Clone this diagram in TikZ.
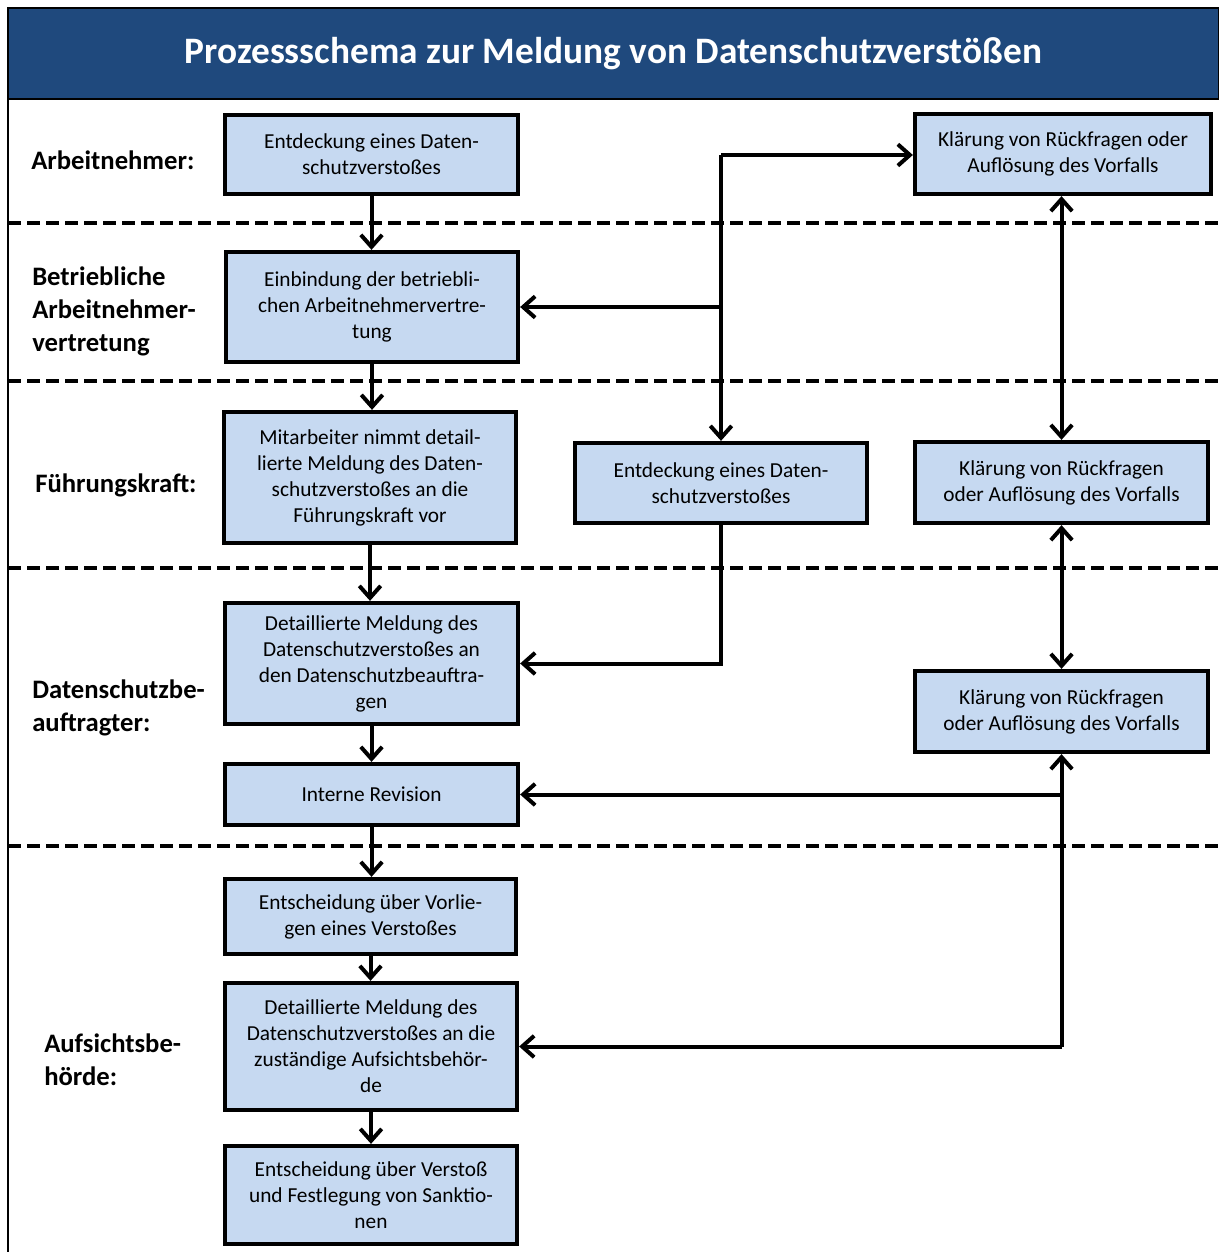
\documentclass[tikz,border=0pt]{standalone}
\usepackage{fontspec}
\setmainfont{Carlito}
\usetikzlibrary{arrows.meta}
\definecolor{titleblue}{HTML}{1F497D}
\definecolor{boxblue}{HTML}{C6D9F1}
\tikzset{
  box/.style={draw=black, line width=3.2pt, fill=boxblue, inner sep=0pt, align=center,
    font=\fontsize{16}{19.5}\selectfont},
  lane/.style={font=\bfseries\fontsize{20}{24.75}\selectfont, align=left, anchor=west, inner sep=0pt},
  conn/.style={line width=3pt, -{Straight Barb[length=9pt,width=16pt]}},
  biconn/.style={line width=3pt, {Straight Barb[length=9pt,width=16pt]}-{Straight Barb[length=9pt,width=16pt]}},
  sepline/.style={line width=3pt, dash pattern=on 9.75pt off 4.5pt},
  % size helper: width and height given in px (0.75pt each)
  sz/.style 2 args={minimum width=#1*0.75pt, minimum height=#2*0.75pt},
}
\begin{document}
\begin{tikzpicture}[x=0.75pt, y=-0.75pt]
\useasboundingbox (0,0) rectangle (1219,1252);
% title band
\node[sz={1211}{91}, inner sep=0pt, fill=titleblue, draw=black, line width=1.2pt,
      text=white, font=\bfseries\fontsize{28}{32}\selectfont] (title) at (613.5,53.5)
  {Prozessschema zur Meldung von Datenschutzverstößen};
% left frame line
\draw[line width=1.5pt] (8,99) -- (8,1252);
% lane separators
\foreach \yy in {223,381,568,846} \draw[sepline] (8,\yy) -- (1219,\yy);
% lane labels
\node[lane] (l1) at (31,160) {Arbeitnehmer:};
\node[lane] (l2) at (32,311) {Betriebliche\\Arbeitnehmer-\\vertretung};
\node[lane] (l3) at (35,485) {Führungskraft:};
\node[lane] (l4) at (32,708) {Datenschutzbe-\\auftragter:};
\node[lane] (l5) at (44,1060) {Aufsichtsbe-\\hörde:};
% boxes
\node[box, sz={293}{79}]  (a1) at (371.5,154.5) {Entdeckung eines Daten-\\schutzverstoßes};
\node[box, sz={292}{110}] (b1) at (372,307) {Einbindung der betriebli-\\chen Arbeitnehmervertre-\\tung};
\node[box, sz={292}{131}] (f1) at (370,477.5) {Mitarbeiter nimmt detail-\\lierte Meldung des Daten-\\schutzverstoßes an die\\Führungskraft vor};
\node[box, sz={292}{80}]  (f2) at (721,483) {Entdeckung eines Daten-\\schutzverstoßes};
\node[box, sz={293}{81}]  (f3) at (1061.5,482.5) {Klärung von Rückfragen\\oder Auflösung des Vorfalls};
\node[box, sz={296}{80}]  (k1) at (1063,154) {Klärung von Rückfragen oder\\Auflösung des Vorfalls};
\node[box, sz={293}{121}] (d1) at (371.5,663.5) {Detaillierte Meldung des\\Datenschutzverstoßes an\\den Datenschutzbeauftra-\\gen};
\node[box, sz={293}{61}]  (d2) at (371.5,794.5) {Interne Revision};
\node[box, sz={293}{81}]  (d3) at (1061.5,711.5) {Klärung von Rückfragen\\oder Auflösung des Vorfalls};
\node[box, sz={291}{75}]  (s1) at (370.5,916.5) {Entscheidung über Vorlie-\\gen eines Verstoßes};
\node[box, sz={292}{127}] (s2) at (371,1046.5) {Detaillierte Meldung des\\Datenschutzverstoßes an die\\zuständige Aufsichtsbehör-\\de};
\node[box, sz={292}{98}]  (s3) at (371,1195) {Entscheidung über Verstoß\\und Festlegung von Sanktio-\\nen};
% vertical chain
\draw[conn] (a1.south) -- (a1.south |- b1.north);
\draw[conn] (b1.south) -- (b1.south |- f1.north);
\draw[conn] (f1.south) -- (f1.south |- d1.north);
\draw[conn] (d1.south) -- (d1.south |- d2.north);
\draw[conn] (d2.south) -- (d2.south |- s1.north);
\draw[conn] (s1.south) -- (s1.south |- s2.north);
\draw[conn] (s2.south) -- (s2.south |- s3.north);
% branching from the middle
\coordinate (j1) at (721,155);
\coordinate (j2) at (721,307);
\draw[line width=3pt] (j1) -- (j2);
\draw[conn] (j2) -- (j2 -| b1.east);
\draw[conn] (j1) -- (j1 |- f2.north);
\draw[conn] (j1) -- (j1 -| k1.west);
\draw[conn] (f2.south) |- (d1.east);
% right column
\draw[biconn] (k1.south -| f3.north) -- (f3.north);
\draw[biconn] (f3.south) -- (f3.south |- d3.north);
\coordinate (j3) at (1061.5,1046.5);
\coordinate (j4) at (1061.5,794.5);
\draw[conn] (j3) -- (j3 |- d3.south);
\draw[conn] (j3) -- (j3 -| s2.east);
\draw[conn] (j4) -- (j4 -| d2.east);
\end{tikzpicture}
\end{document}
